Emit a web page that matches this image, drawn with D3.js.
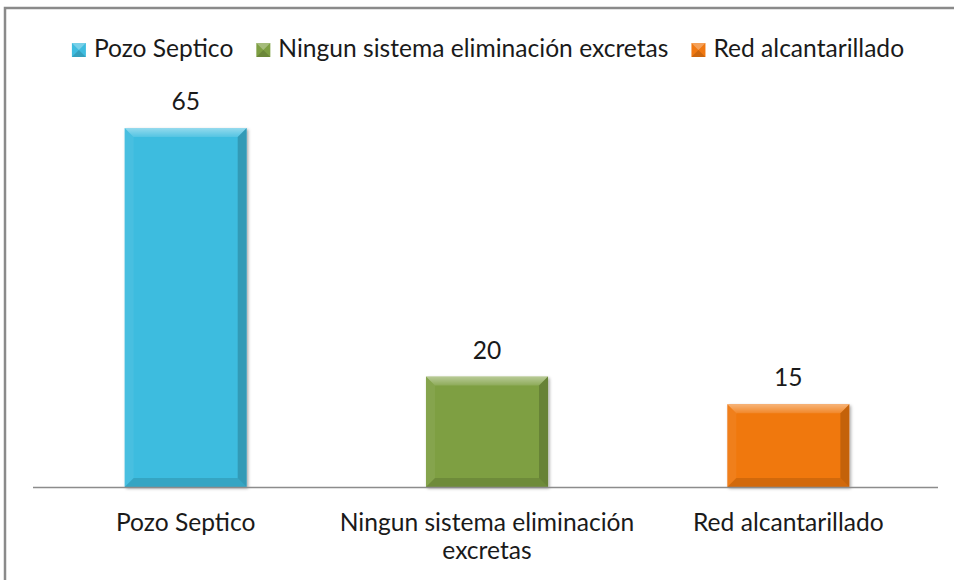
<!DOCTYPE html>
<html>
<head>
<meta charset="utf-8">
<script src="https://cdn.jsdelivr.net/npm/d3@7"></script>
<style>
  body { margin: 0; background: #fff; }
  svg { display: block; }
  text { font-family: Lato, "Open Sans", sans-serif; fill: #1a1a1a; }
</style>
</head>
<body>
<div id="chart"></div>
<script>
// chart data
var categories = ["Pozo Septico", "Ningun sistema eliminación excretas", "Red alcantarillado"];
var values = [65, 20, 15];
var barColors = ["#3ebcdf", "#7e9f43", "#f07811"];

var w = 954;
var h = 580;
var fontSize = 24.6;
var svg;

function init() {
	svg = d3.select("#chart")
		.append("svg")
		.attr("width", w)
		.attr("height", h);

	var defs = svg.append("defs");

	// soft shadow under the bars
	var shadow = defs.append("filter")
		.attr("id", "shadow")
		.attr("x", "-10%").attr("y", "-10%")
		.attr("width", "130%").attr("height", "130%");
	shadow.append("feDropShadow")
		.attr("dx", 1.5).attr("dy", 1.5)
		.attr("stdDeviation", 1.5)
		.attr("flood-color", "#000")
		.attr("flood-opacity", 0.35);

	var topGrad = defs.append("linearGradient")
		.attr("id", "topGrad")
		.attr("x1", 0).attr("y1", 0).attr("x2", 0).attr("y2", 1);
	topGrad.append("stop").attr("offset", "0%").attr("stop-color", "#fff").attr("stop-opacity", 0.45);
	topGrad.append("stop").attr("offset", "100%").attr("stop-color", "#fff").attr("stop-opacity", 0.12);

	// outer frame, only left and top edges show in the picture
	svg.append("rect")
		.attr("x", 5)
		.attr("y", 8)
		.attr("width", w + 20)
		.attr("height", h + 20)
		.attr("fill", "none")
		.attr("stroke", "#8a8a8a")
		.attr("stroke-width", 2.5);

	var x = d3.scaleBand()
		.domain(categories)
		.range([35, 939])
		.paddingInner(0.595)
		.paddingOuter(0.2975);

	var y = d3.scaleLinear()
		.domain([0, 70])
		.range([487, 100.4]);

	drawBars(x, y);
	drawAxis(x, y);
	drawLegend();
}

function drawBars(x, y) {
	var b = 9; // bevel size
	var bars = svg.append("g").attr("id", "bars");

	categories.forEach(function(c, i) {
		var x0 = x(c);
		var bw = x.bandwidth();
		var y0 = y(values[i]);
		var bh = y(0) - y0;
		var g = bars.append("g");

		g.append("rect")
			.attr("x", x0)
			.attr("y", y0)
			.attr("width", bw)
			.attr("height", bh)
			.attr("fill", barColors[i])
			.attr("filter", "url(#shadow)");

		var facets = [
			{ pts: [[x0, y0], [x0 + bw, y0], [x0 + bw - b, y0 + b], [x0 + b, y0 + b]], fill: "url(#topGrad)", op: 1 },
			{ pts: [[x0, y0], [x0 + b, y0 + b], [x0 + b, y0 + bh - b], [x0, y0 + bh]], fill: "#fff", op: 0.06 },
			{ pts: [[x0 + bw, y0], [x0 + bw, y0 + bh], [x0 + bw - b, y0 + bh - b], [x0 + bw - b, y0 + b]], fill: "#000", op: 0.18 },
			{ pts: [[x0, y0 + bh], [x0 + bw, y0 + bh], [x0 + bw - b, y0 + bh - b], [x0 + b, y0 + bh - b]], fill: "#000", op: 0.12 }
		];
		facets.forEach(function(f) {
			g.append("polygon")
				.attr("points", f.pts.map(function(p) { return p.join(","); }).join(" "))
				.attr("fill", f.fill)
				.attr("fill-opacity", f.op);
		});

		// value label
		svg.append("text")
			.text(values[i])
			.attr("x", x0 + bw / 2)
			.attr("y", y0 - 18)
			.attr("text-anchor", "middle")
			.attr("font-size", fontSize);
	});
}

function drawAxis(x, y) {
	svg.append("line")
		.attr("x1", 33)
		.attr("x2", 938)
		.attr("y1", y(0) + 0.5)
		.attr("y2", y(0) + 0.5)
		.attr("stroke", "#8c8c8c")
		.attr("stroke-width", 1.5);

	categories.forEach(function(c) {
		var t = svg.append("text")
			.attr("x", x(c) + x.bandwidth() / 2)
			.attr("y", 531)
			.attr("text-anchor", "middle")
			.attr("font-size", fontSize);
		wrap(t, c, 340);
	});
}

// simple word wrap into tspans
function wrap(t, str, maxW) {
	var words = str.split(" ");
	var line = [];
	var cx = t.attr("x");
	var tspan = t.append("tspan").attr("x", cx).attr("dy", 0);
	words.forEach(function(word) {
		line.push(word);
		tspan.text(line.join(" "));
		if (tspan.node().getComputedTextLength() > maxW && line.length > 1) {
			line.pop();
			tspan.text(line.join(" "));
			line = [word];
			tspan = t.append("tspan").attr("x", cx).attr("dy", 28).text(word);
		}
	});
}

function drawLegend() {
	var legend = svg.append("g").attr("id", "legend");
	var box = 14, gap = 8, itemGap = 23;
	var items = [];
	var total = 0;

	categories.forEach(function(c, i) {
		var t = legend.append("text")
			.text(c)
			.attr("y", 57)
			.attr("font-size", fontSize);
		var tw = t.node().getComputedTextLength();
		items.push({ t: t, tw: tw, i: i });
		total += box + gap + tw;
	});
	total += itemGap * (items.length - 1);

	var cur = 488 - total / 2;
	items.forEach(function(it) {
		var g = legend.append("g");
		g.append("rect")
			.attr("x", cur)
			.attr("y", 43)
			.attr("width", box)
			.attr("height", box)
			.attr("fill", barColors[it.i]);
		g.append("polygon")
			.attr("points", [[cur, 43], [cur + box, 43], [cur + box / 2, 43 + box / 2]].map(function(p) { return p.join(","); }).join(" "))
			.attr("fill", "#fff").attr("fill-opacity", 0.3);
		g.append("polygon")
			.attr("points", [[cur, 43 + box], [cur + box, 43 + box], [cur + box / 2, 43 + box / 2]].map(function(p) { return p.join(","); }).join(" "))
			.attr("fill", "#000").attr("fill-opacity", 0.15);
		it.t.attr("x", cur + box + gap);
		cur += box + gap + it.tw + itemGap;
	});
}

init();
</script>
</body>
</html>
